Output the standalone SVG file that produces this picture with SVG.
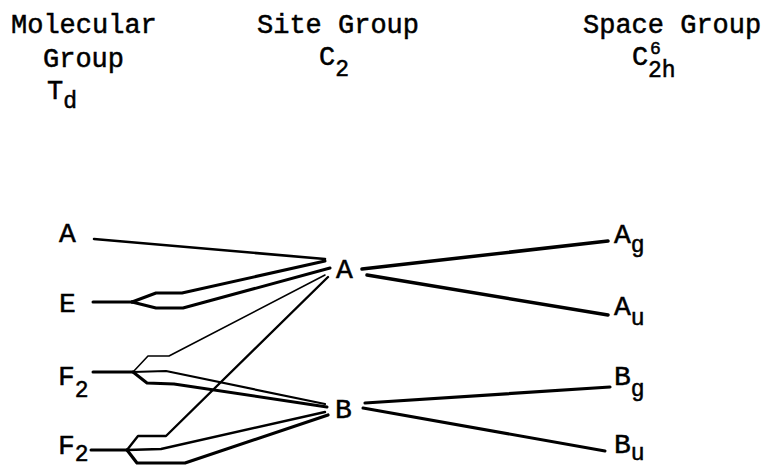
<svg xmlns="http://www.w3.org/2000/svg" width="767" height="466" viewBox="0 0 767 466">
<style>
text{font-family:"Liberation Mono","Courier New",monospace;fill:#000;stroke:#000;stroke-width:0.5}
.h{font-size:27px}
.n{font-size:28px}
.s{font-size:23px}
.c path{fill:none;stroke:#000;stroke-linecap:round;stroke-linejoin:round}
</style>
<rect width="767" height="466" fill="#fff"/>
<g id="hdr-molecular">
<text class="h" x="11" y="33">Molecular</text>
<text class="h" x="43" y="67">Group</text>
<text class="h" x="47" y="99">T<tspan class="s" dy="9">d</tspan></text>
</g>
<g id="hdr-site">
<text class="h" x="257" y="33">Site Group</text>
<text class="h" x="319" y="65">C<tspan class="s" dy="11">2</tspan></text>
</g>
<g id="hdr-space">
<text class="h" x="583" y="33">Space Group</text>
<text class="h" x="632" y="65">C</text>
<text class="s" x="650" y="54" style="font-size:18px">6</text>
<text class="s" x="648" y="77">2h</text>
</g>
<g id="mol-A"><text class="n" x="59" y="242">A</text></g>
<g id="mol-E"><text class="n" x="59" y="312">E</text></g>
<g id="mol-F2a"><text class="n" x="58" y="385">F<tspan class="s" dy="12">2</tspan></text></g>
<g id="mol-F2b"><text class="n" x="58" y="454">F<tspan class="s" dy="7">2</tspan></text></g>
<g id="site-A"><text class="n" x="336" y="278">A</text></g>
<g id="site-B"><text class="n" x="335" y="418">B</text></g>
<g id="sp-Ag"><text class="n" x="614" y="243">A<tspan class="s" dy="9">g</tspan></text></g>
<g id="sp-Au"><text class="n" x="614" y="315">A<tspan class="s" dy="10">u</tspan></text></g>
<g id="sp-Bg"><text class="n" x="614" y="385">B<tspan class="s" dy="11">g</tspan></text></g>
<g id="sp-Bu"><text class="n" x="614" y="453">B<tspan class="s" dy="7">u</tspan></text></g>
<g id="connectors" class="c">
<path d="M94,239 L325,259" stroke-width="2.6"/>
<path d="M93,302 L132,302" stroke-width="3"/>
<path d="M132,302 L156,293 L182,293 L325,261" stroke-width="3"/>
<path d="M132,302 L156,308 L183,308 L330,268" stroke-width="3"/>
<path d="M93,372 L133,372" stroke-width="3"/>
<path d="M133,372 L148,356 L169,356 L325,275" stroke-width="1.6"/>
<path d="M133,372 L166,371 L325,404" stroke-width="2.2"/>
<path d="M133,372 L147,383 L174,384 L327,407" stroke-width="3"/>
<path d="M91,450 L127,450" stroke-width="3"/>
<path d="M127,450 L138,436 L166,436 L328,277" stroke-width="2.4"/>
<path d="M127,450 L161,449 L325,412" stroke-width="2.4"/>
<path d="M127,450 L137,463 L185,463 L328,415" stroke-width="3.2"/>
<path d="M362,269 L608,241" stroke-width="3.5"/>
<path d="M367,275 L608,315" stroke-width="3.5"/>
<path d="M365,403 L610,387" stroke-width="3.2"/>
<path d="M363,408 L605,451" stroke-width="3"/>
</g>
</svg>
